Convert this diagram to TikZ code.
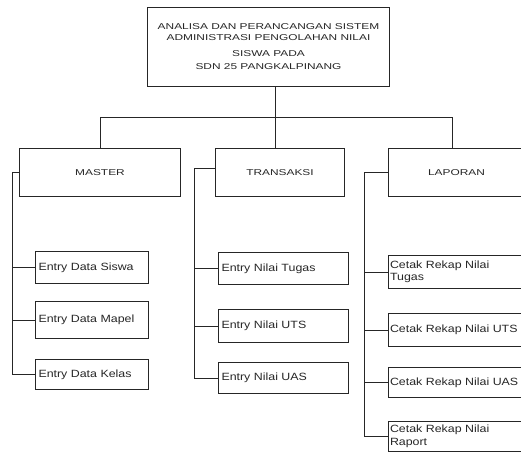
\documentclass[tikz,border=0pt]{standalone}
\usepackage{fontspec}
\setmainfont{Liberation Sans}
\newfontfamily\capfont[FakeStretch=1.4]{Liberation Sans}
\newfontfamily\boxfont[FakeStretch=1.18]{Liberation Sans}
\begin{document}
\begin{tikzpicture}[x=1pt,y=-1pt,
  box/.style={draw=black!85, line width=1pt, rectangle, inner sep=0pt, anchor=north west, text=black!85},
  capbox/.style={box, align=center, font=\capfont\fontsize{8.5}{11}\selectfont},
  entrybox/.style={box, inner xsep=3pt, align=left, font=\boxfont\fontsize{10.5}{12.5}\selectfont},
  cetakbox/.style={box, inner xsep=1.5pt, align=left, text width=140pt, font=\boxfont\fontsize{10.5}{12.5}\selectfont},
  conn/.style={draw=black!85, line width=1pt}]
\clip (0,0) rectangle (521,452);
% top
\node[capbox, minimum width=242pt, minimum height=79pt] (top) at (147,7)
  {ANALISA DAN PERANCANGAN SISTEM\\ADMINISTRASI PENGOLAHAN NILAI\\[5pt]SISWA PADA\\[2pt]SDN 25 PANGKALPINANG};
% second level
\node[capbox, minimum width=161pt, minimum height=48pt] (master) at (19,148) {MASTER};
\node[capbox, minimum width=129pt, minimum height=48pt] (trans) at (215,148) {TRANSAKSI};
\node[capbox, minimum width=136pt, minimum height=48pt] (lap) at (388,148) {LAPORAN};
% master children
\node[entrybox, text width=107pt, minimum height=32pt] (siswa) at (35,251) {Entry Data Siswa};
\node[entrybox, text width=107pt, minimum height=37pt] (mapel) at (35,301) {Entry Data Mapel};
\node[entrybox, text width=107pt, minimum height=30pt] (kelas) at (35,359) {Entry Data Kelas};
% transaksi children
\node[entrybox, text width=124pt, minimum height=32pt] (tugas) at (218,252) {Entry Nilai Tugas};
\node[entrybox, text width=124pt, minimum height=33pt] (uts) at (218,309) {Entry Nilai UTS};
\node[entrybox, text width=124pt, minimum height=31pt] (uas) at (218,362) {Entry Nilai UAS};
% laporan children
\node[cetakbox, minimum height=33pt] (rtugas) at (388,255) {Cetak Rekap Nilai\\Tugas};
\node[cetakbox, minimum height=33pt] (ruts) at (388,313) {Cetak Rekap Nilai UTS};
\node[cetakbox, minimum height=30pt] (ruas) at (388,367) {Cetak Rekap Nilai UAS};
\node[cetakbox, minimum height=30pt] (rraport) at (388,421) {Cetak Rekap Nilai\\Raport};
% connectors
\coordinate (hub) at (275,117);
\coordinate (busR) at (452,117);
\coordinate (ms) at (12,0);
\coordinate (ts) at (194,0);
\coordinate (ls) at (364,0);
\draw[conn] (hub |- top.south) -- (hub |- trans.north);
\draw[conn] (master.north) -- (master.north |- hub) -- (busR) -- (busR |- lap.north);
\draw[conn] (master.west) -- (master.west -| ms) |- (kelas.west);
\draw[conn] (siswa.west) -- (siswa.west -| ms);
\draw[conn] (mapel.west) -- (mapel.west -| ms);
\draw[conn] ([yshift=4pt]trans.west) -- ([yshift=4pt]trans.west -| ts) |- (uas.west);
\draw[conn] (tugas.west) -- (tugas.west -| ts);
\draw[conn] (uts.west) -- (uts.west -| ts);
\draw[conn] (lap.west) -- (lap.west -| ls) |- (rraport.west);
\draw[conn] (rtugas.west) -- (rtugas.west -| ls);
\draw[conn] (ruts.west) -- (ruts.west -| ls);
\draw[conn] (ruas.west) -- (ruas.west -| ls);
\end{tikzpicture}
\end{document}
